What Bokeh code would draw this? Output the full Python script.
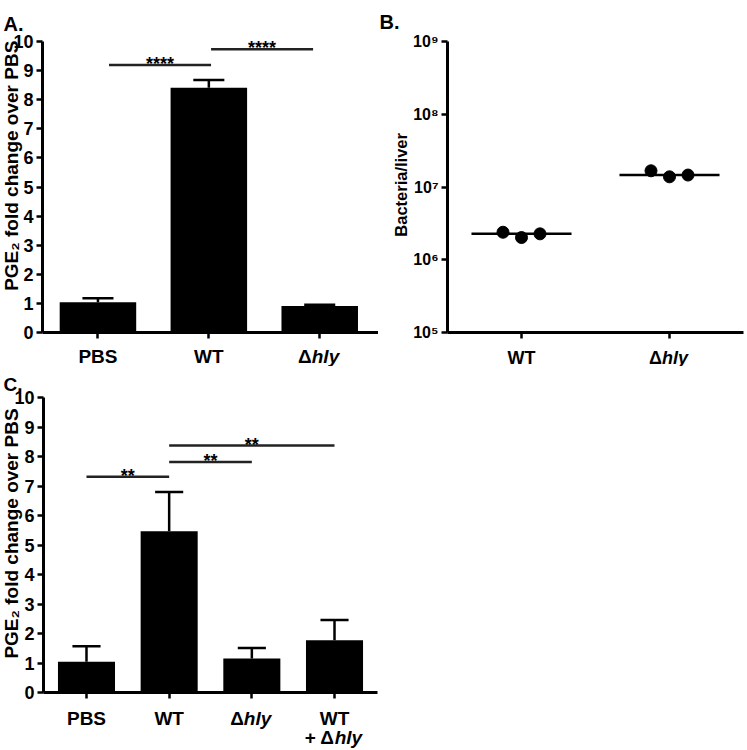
import math
import numpy as np
from bokeh.plotting import figure
from bokeh.layouts import column, row
from bokeh.models import Range1d, FixedTicker
from bokeh.core.properties import value
from bokeh.embed import file_html
from bokeh.resources import INLINE

# ---------------- data ----------------
a_groups = ["PBS", "WT", "Δhly"]
a_mean = [1.04, 8.41, 0.91]
a_sem = [0.14, 0.27, 0.04]
a_sig_from = [0.60, 1.52]
a_sig_to = [1.52, 2.44]
a_sig_y = [9.19, 9.73]
a_sig_text = ["****", "****"]

b_groups = ["WT", "Δhly"]
b_wt = [2.39e6, 2.02e6, 2.27e6]
b_hly = [1.67e7, 1.38e7, 1.46e7]
b_ticks = [10**5, 10**6, 10**7, 10**8, 10**9]
b_tick_labels = ["10⁵", "10⁶", "10⁷", "10⁸", "10⁹"]

c_groups = ["PBS", "WT", "Δhly", "WT\n+ Δhly"]
c_mean = [1.04, 5.47, 1.15, 1.77]
c_sem = [0.53, 1.33, 0.36, 0.69]
c_sig_pairs = [(0, 1), (1, 2), (1, 3)]
c_sig_y = [7.31, 7.81, 8.37]
c_sig_text = ["**", "**", "**"]

y_ticks = list(range(0, 11))

# ---------------- style ----------------
FONT = "Liberation Sans"
EM = {"Δ": 0.61, "+": 0.58, " ": 0.28, "h": 0.61, "l": 0.28, "y": 0.56}


def tw(s, size):
    return sum(EM.get(ch, 0.6) for ch in s) * size


def base_fig(width, height, xr, yr, borders, y_type="linear"):
    l, r, t, b = borders
    p = figure(width=width, height=height, x_range=xr, y_range=yr,
               y_axis_type=y_type, output_backend="svg", toolbar_location=None,
               min_border_left=l, min_border_right=r, min_border_top=t,
               min_border_bottom=b)
    p.outline_line_color = None
    p.xgrid.visible = False
    p.ygrid.visible = False
    p.background_fill_color = "white"
    p.border_fill_color = "white"
    for ax in (p.xaxis[0], p.yaxis[0]):
        ax.axis_line_width = 3
        ax.axis_line_color = "black"
        ax.major_tick_line_width = 2.5
        ax.major_tick_line_color = "black"
        ax.major_tick_in = 0
        ax.major_tick_out = 6
        ax.minor_tick_line_color = None
    p.yaxis.major_label_text_font = FONT
    p.yaxis.major_label_text_font_style = "bold"
    p.yaxis.major_label_text_color = "black"
    p.yaxis.major_label_standoff = 3
    p.xaxis.major_label_text_color = None
    return p


def txt(p, x, y, s, size, style="bold", align="center",
        baseline="alphabetic", xo=0, yo=0, angle=0.0):
    p.text(x=[x], y=[y], text=[s], text_font=value(FONT),
           text_font_style=style, text_font_size=f"{size}px",
           text_color="black", text_align=align, text_baseline=baseline,
           x_offset=xo, y_offset=yo, angle=angle, level="overlay")


def cat_labels(p, centers, labels, y0, size, first_off, gap):
    for c, lab in zip(centers, labels):
        for k, line in enumerate(lab.split("\n")):
            yo = first_off + k * gap
            if "hly" in line:
                i = line.index("hly")
                pre, it = line[:i], line[i:]
                split = (tw(pre, size) - tw(it, size)) / 2
                txt(p, c, y0, pre, size, align="right", xo=split, yo=yo)
                txt(p, c, y0, it, size, style="bold italic", align="left",
                    xo=split, yo=yo)
            else:
                txt(p, c, y0, line, size, yo=yo)


def bar_panel(p, centers, means, sems, cap_half):
    p.vbar(x=centers, top=means, bottom=0, width=0.69, fill_color="black",
           line_color=None)
    tops = [m + s for m, s in zip(means, sems)]
    p.segment(x0=centers, y0=means, x1=centers, y1=tops, line_color="black",
              line_width=2.5)
    p.segment(x0=[c - cap_half for c in centers], y0=tops,
              x1=[c + cap_half for c in centers], y1=tops,
              line_color="black", line_width=2.5)


# ---------------- panel A ----------------
a_x = [i + 0.5 for i in range(len(a_groups))]
pa = base_fig(378, 366, Range1d(0, 3.03), Range1d(0, 10), (42, 0, 39, 34))
pa.yaxis.ticker = FixedTicker(ticks=y_ticks)
pa.yaxis.major_label_text_font_size = "18px"
pa.xaxis.ticker = FixedTicker(ticks=a_x)
bar_panel(pa, a_x, a_mean, a_sem, 0.14)
pa.segment(x0=a_sig_from, y0=a_sig_y, x1=a_sig_to, y1=a_sig_y,
           line_color="#222222", line_width=2.5)
for x0, x1, yy, s in zip(a_sig_from, a_sig_to, a_sig_y, a_sig_text):
    txt(pa, (x0 + x1) / 2, yy, s, 18, yo=-1)
cat_labels(pa, a_x, a_groups, 0, 19, 24, 24)
txt(pa, 0, 5.73, "PGE₂ fold change over PBS", 19, baseline="middle",
    xo=-31, angle=math.pi / 2)
txt(pa, 0, 10, "A.", 20, align="left", xo=-39, yo=-18)

# ---------------- panel B ----------------
b_x = [i + 0.5 for i in range(len(b_groups))]
pb = base_fig(367, 366, Range1d(0, 2), Range1d(1e5, 1e9), (69, 2, 41, 33),
              y_type="log")
pb.yaxis.ticker = FixedTicker(ticks=b_ticks)
pb.yaxis.major_label_overrides = dict(zip(b_ticks, b_tick_labels))
pb.yaxis.major_label_text_font_size = "16px"
pb.xaxis.ticker = FixedTicker(ticks=b_x)
jit = [-0.125, 0.0, 0.125]
for c, vals in zip(b_x, [b_wt, b_hly]):
    med = float(np.median(vals))
    pb.segment(x0=[c - 0.338], y0=[med], x1=[c + 0.338], y1=[med],
               line_color="black", line_width=2.5)
    pb.scatter(x=[c + j for j in jit], y=vals, size=12, fill_color="black",
               line_color="black")
cat_labels(pb, b_x, b_groups, 1e5, 18, 25, 24)
txt(pb, 0, 1.07e7, "Bacteria/liver", 16.5, baseline="middle",
    xo=-47, angle=math.pi / 2)
txt(pb, 0, 1e9, "B.", 20, align="left", xo=-68, yo=-20)

# ---------------- panel C ----------------
c_x = [i + 0.5 for i in range(len(c_groups))]
pc = base_fig(388, 384, Range1d(-0.02, 4.02), Range1d(0, 10), (43, 11, 31, 58))
pc.yaxis.ticker = FixedTicker(ticks=y_ticks)
pc.yaxis.major_label_text_font_size = "18px"
pc.xaxis.ticker = FixedTicker(ticks=c_x)
bar_panel(pc, c_x, c_mean, c_sem, 0.17)
c_from = [c_x[i] for i, j in c_sig_pairs]
c_to = [c_x[j] for i, j in c_sig_pairs]
pc.segment(x0=c_from, y0=c_sig_y, x1=c_to, y1=c_sig_y,
           line_color="#222222", line_width=2.5)
for x0, x1, yy, s in zip(c_from, c_to, c_sig_y, c_sig_text):
    txt(pc, (x0 + x1) / 2, yy, s, 18, yo=-1)
cat_labels(pc, c_x, c_groups, 0, 19, 26, 19)
txt(pc, -0.02, 5.39, "PGE₂ fold change over PBS", 19, baseline="middle",
    xo=-32, angle=math.pi / 2)
txt(pc, -0.02, 10, "C.", 19, align="left", xo=-40, yo=-13)

layout = column(row(pa, pb), pc)
open("out.html", "w").write(file_html(layout, INLINE))
